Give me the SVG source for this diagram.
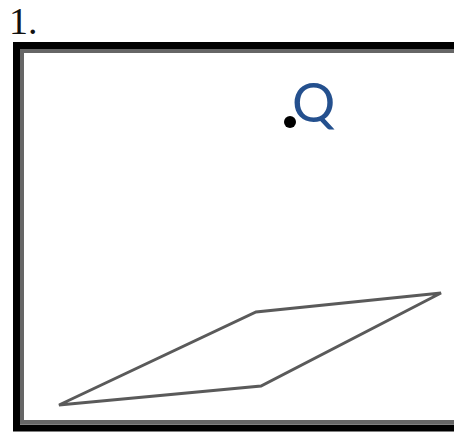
<svg xmlns="http://www.w3.org/2000/svg" width="454" height="432" viewBox="0 0 454 432">
<style>
.lbl{font-family:"Liberation Serif","Times New Roman",serif;}
.q{font-family:Lato,"Liberation Sans",sans-serif;}
</style>
<rect width="454" height="432" fill="#fff"/>
<g id="frame">
<rect x="22" y="51" width="500" height="371" fill="none" stroke="#666" stroke-width="4"/>
<rect x="16.5" y="45.5" width="500" height="382.5" fill="none" stroke="#000" stroke-width="7"/>
</g>
<text class="lbl" x="9" y="34" font-size="38" fill="#111">1.</text>
<g id="plane">
<polygon points="59,405 261,386 441,293 256,312" fill="none" stroke="#5a5a5a" stroke-width="3" stroke-linejoin="miter"/>
</g>
<g id="Q">
<circle cx="290" cy="122" r="6" fill="#000"/>
<text class="q" x="292" y="122" font-size="54" fill="#24508e">Q</text>
</g>
</svg>
